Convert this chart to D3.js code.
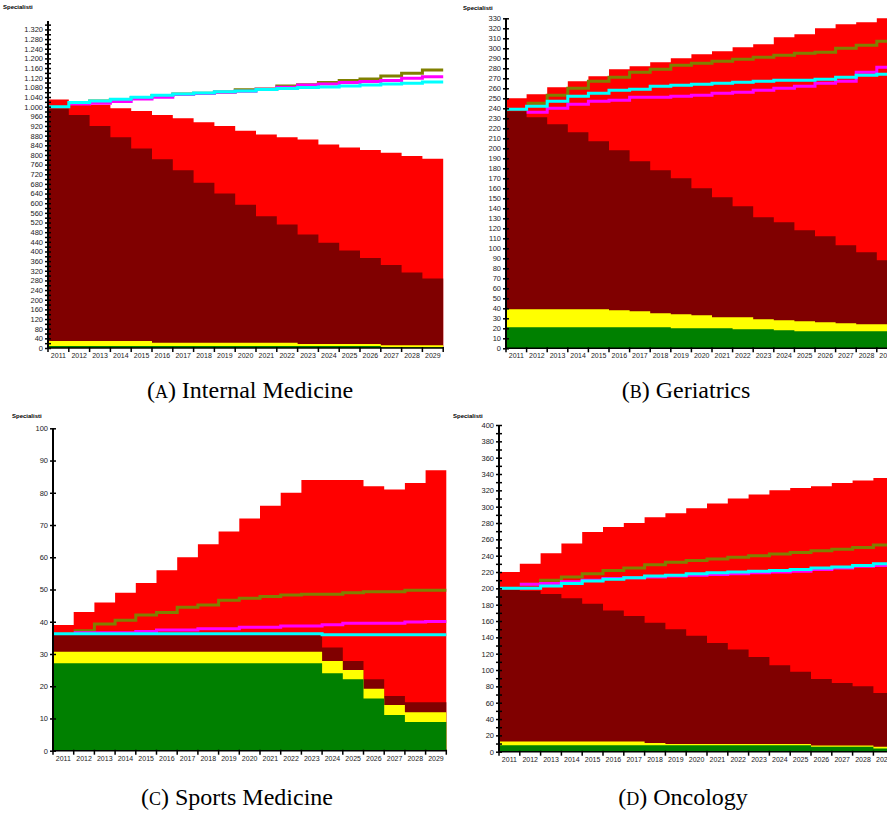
<!DOCTYPE html>
<html><head><meta charset="utf-8">
<script src="https://cdn.jsdelivr.net/npm/d3@7"></script>
<style>body{margin:0;background:#fff} svg{display:block}</style>
</head><body>
<svg id="c" width="887" height="817"></svg>
<script>
const years = ["2011","2012","2013","2014","2015","2016","2017","2018","2019","2020","2021","2022","2023","2024","2025","2026","2027","2028","2029"];

// ---- (A) Internal Medicine : cumulative levels ----
const aRed     = [1030,1008,1008,993,982,965,952,935,920,900,885,873,864,843,831,820,809,796,784];
const aMaroon  = [992,965,920,873,827,782,737,685,640,594,546,512,470,436,404,373,344,313,288];
const aYellow  = [29,29,29,29,29,22,22,22,22,22,22,22,17,17,17,17,11,11,11];
const aGreen   = [8,8,8,8,8,8,8,8,8,8,8,8,8,8,8,8,3,3,3];
const aOlive   = [null,1016,1023,1030,1038,1046,1052,1056,1061,1070,1073,1086,1091,1100,1108,1115,1127,1138,1152];
const aMagenta = [null,1011,1014,1021,1032,1039,1050,1055,1060,1064,1072,1080,1090,1094,1100,1104,1108,1118,1124];
const aCyan    = [1000,1017,1024,1031,1039,1047,1053,1057,1062,1065,1071,1075,1079,1082,1086,1090,1094,1097,1102];

// ---- (B) Geriatrics ----
const bRed     = [250,254,261,267,272,279,282,286,290,294,297,301,304,311,314,320,324,326,330];
const bMaroon  = [237,231,224,216,207,198,187,178,170,160,151,142,131,126,118,112,103,96,88];
const bYellow  = [39,39,39,39,39,38,37,35,34,33,31,31,29,28,27,26,25,24,24];
const bGreen   = [21,21,21,21,21,21,21,21,20,20,20,19,19,18,17,17,17,17,17];
const bOlive   = [null,245,253,260,267,271,276,279,283,285,287,289,291,293,295,296,300,303,307];
const bMagenta = [null,236,240,244,247,248,251,251,252,253,255,256,258,260,262,265,267,276,281];
const bCyan    = [239,242,247,252,255,258,259,262,263,264,265,266,267,268,268,269,271,273,274];

// ---- (C) Sports Medicine ----
const cRed     = [39,43,46,49,52,56,60,64,68,72,76,80,84,84,84,82,81,83,87];
const cMaroon  = [36,36,36,36,36,36,36,36,36,36,36,36,36,32,27.8,22.2,17,15,15];
const cYellow  = [30.7,30.7,30.7,30.7,30.7,30.7,30.7,30.7,30.7,30.7,30.7,30.7,30.7,27.8,25,19.2,14.2,11.9,11.9];
const cGreen   = [27.1,27.1,27.1,27.1,27.1,27.1,27.1,27.1,27.1,27.1,27.1,27.1,27.1,24,22.2,16.2,11.1,8.9,8.9];
const cOlive   = [null,37.2,39.3,40.5,42.1,42.9,44.5,45.2,46.7,47.3,47.8,48.3,48.5,48.5,49,49.3,49.3,49.8,49.8];
const cMagenta = [null,36.6,36.6,36.6,37,37.4,37.4,37.8,37.8,38.3,38.3,38.7,38.7,39.1,39.5,39.5,39.5,39.9,40.1];
const cCyan    = [36.3,36.3,36.3,36.3,36.3,36.3,36.3,36.3,36.3,36.3,36.3,36.3,36.3,36,36,36,36,36,36];

// ---- (D) Oncology ----
const dRed     = [220,230,243,255,269,275,280,287,292,298,304,310,315,320,323,325,329,332,335];
const dMaroon  = [198,197,193,188,181,173,166,158,150,142,133,125,116,106,98,89,84,80,72];
const dYellow  = [12.5,12.5,12.5,12.5,12.5,12.5,12.5,10.5,9.5,9.5,9.5,9.5,9.5,9.5,9.5,7.5,7.5,7.5,6];
const dGreen   = [8,8,8,8,8,8,8,8,8,8,8,8,8,8,8,6,6,6,4];
const dOlive   = [null,205,210,214,218,222,225,229,232,234,236,238,240,242,244,246,248,250,253];
const dMagenta = [null,205,206,208,210,212,213,214,215,216,217,218,219,220,221,223,225,227,228];
const dCyan    = [200,200,203,206,209,211,213,215,216,218,219,220,221,222,223,225,226,228,230];

const itFmt = d3.formatLocale({decimal:",", thousands:".", grouping:[3], currency:["",""]}).format(",d");

const panels = [
  {series:[aRed,aMaroon,aYellow,aGreen], lines:[aOlive,aMagenta,aCyan], x0:48, bw:20.8, zero:348, top:21, ymax:1355,
   tickStep:20, tickMax:1340, labelStep:40, labelMax:1320, fmt:itFmt, tx:3, ty:9, cap:["A","Internal Medicine"], capX:250, capY:398},
  {series:[bRed,bMaroon,bYellow,bGreen], lines:[bOlive,bMagenta,bCyan], x0:506, bw:20.6, zero:348.3, top:18.3, ymax:330,
   tickStep:10, tickMax:330, labelStep:10, labelMax:330, fmt:d3.format("d"), tx:463, ty:10, cap:["B","Geriatrics"], capX:686, capY:398},
  {series:[cRed,cMaroon,cYellow,cGreen], lines:[cOlive,cMagenta,cCyan], x0:53, bw:20.7, zero:750.7, top:428.3, ymax:100,
   tickStep:10, tickMax:100, labelStep:10, labelMax:100, fmt:d3.format("d"), tx:12, ty:418, cap:["C","Sports Medicine"], capX:237, capY:805},
  {series:[dRed,dMaroon,dYellow,dGreen], lines:[dOlive,dMagenta,dCyan], x0:499, bw:20.8, zero:751.7, top:425, ymax:400,
   tickStep:10, tickMax:400, labelStep:20, labelMax:400, fmt:d3.format("d"), tx:453, ty:418, cap:["D","Oncology"], capX:683, capY:805}
];

const areaColors = ["#ff0000","#800000","#ffff00","#008000"];
const lineColors = ["#808000","#ff00ff","#00ffff"];

const svg = d3.select("#c");

panels.forEach(p => {
  const g = svg.append("g");
  const x = d3.scaleBand().domain(years).range([p.x0, p.x0 + p.bw*years.length]).paddingInner(0).paddingOuter(0);
  const y = d3.scaleLinear().domain([0, p.ymax]).range([p.zero, p.top]);
  const xEnd = x(years[years.length-1]) + x.bandwidth();

  function pts(vals){
    const out = [];
    vals.forEach((v,i)=>{ if(v!=null) out.push({x:x(years[i]), v}); });
    out.push({x:xEnd, v:vals[vals.length-1]});
    return out;
  }
  const area = d3.area().curve(d3.curveStepAfter).x(d=>d.x).y0(y(0)).y1(d=>y(d.v));
  const line = d3.line().curve(d3.curveStepAfter).x(d=>d.x).y(d=>y(d.v));

  p.series.forEach((s,i)=>{
    g.append("path").attr("d", area(pts(s))).attr("fill", areaColors[i]);
  });
  p.lines.forEach((s,i)=>{
    g.append("path").attr("d", line(pts(s))).attr("fill","none").attr("stroke", lineColors[i]).attr("stroke-width",3);
  });

  // y axis
  const tv = d3.range(0, p.tickMax + 0.001, p.tickStep);
  const yAxis = d3.axisLeft(y).tickValues(tv).tickSize(3)
     .tickFormat(v => (v % p.labelStep === 0 && v <= p.labelMax) ? p.fmt(v) : "");
  const ya = g.append("g").attr("transform", `translate(${p.x0},0)`).call(yAxis);
  ya.select(".domain").attr("stroke","#000").attr("stroke-width",2).attr("d", `M0,${y(0)}V${p.top}`);
  ya.selectAll(".tick line").attr("x1",3).attr("x2",-3).attr("stroke","#000").attr("stroke-width",1.5);
  ya.selectAll(".tick text").attr("x",-5).attr("font-family","Liberation Sans, Arial, sans-serif").attr("font-size",7.5).attr("fill","#222");

  // x axis
  const xAxis = d3.axisBottom(x).tickSize(0).tickPadding(4);
  const xa = g.append("g").attr("transform", `translate(0,${y(0)})`).call(xAxis);
  xa.select(".domain").attr("stroke","#000").attr("stroke-width",1.5).attr("d", `M${p.x0},0H${xEnd}`);
  xa.selectAll(".tick text").attr("font-family","Liberation Sans, Arial, sans-serif").attr("font-size",7).attr("fill","#222").attr("dy","0.85em");
  const bounds = years.map(yr => x(yr)).concat([xEnd]);
  xa.selectAll("line.bt").data(bounds).enter().append("line").attr("class","bt")
    .attr("x1", d=>d).attr("x2", d=>d).attr("y1", -1).attr("y2", 4).attr("stroke","#000").attr("stroke-width",1.5);

  // title
  g.append("text").attr("x", p.tx).attr("y", p.ty).text("Specialisti")
   .attr("font-family","Liberation Sans, Arial, sans-serif").attr("font-weight","bold").attr("font-size",6).attr("fill","#000");

  // caption
  const cap = g.append("text").attr("x", p.capX).attr("y", p.capY).attr("text-anchor","middle")
    .attr("font-family","Liberation Serif, Times New Roman, serif").attr("font-size",24).attr("fill","#000");
  cap.append("tspan").text("(");
  cap.append("tspan").attr("font-size",18).text(p.cap[0]);
  cap.append("tspan").text(") " + p.cap[1]);
});
</script>
</body></html>
